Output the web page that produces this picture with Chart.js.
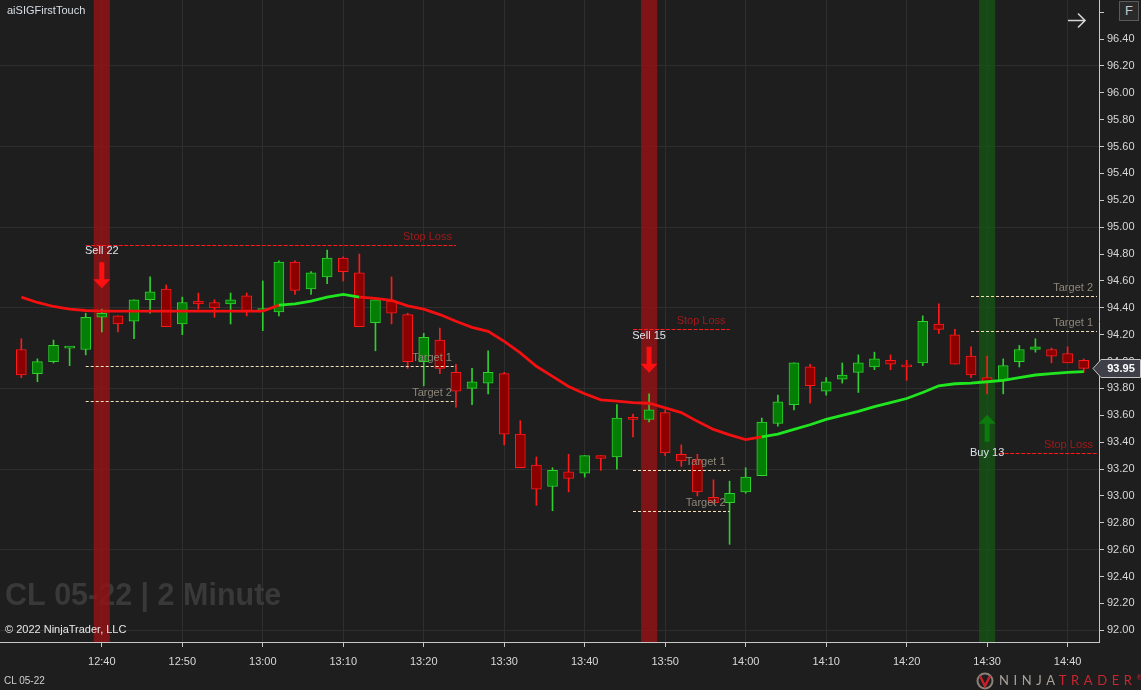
<!DOCTYPE html>
<html><head><meta charset="utf-8">
<script src="https://cdn.jsdelivr.net/npm/chart.js@4.4.1/dist/chart.umd.min.js"></script>
<style>
html,body{margin:0;padding:0;background:#1e1e1e;overflow:hidden;}
#wrap{position:relative;width:1141px;height:690px;background:#1e1e1e;}
canvas{position:absolute;left:0;top:0;}
.t{position:absolute;font-family:'Liberation Sans',Arial,sans-serif;white-space:nowrap;line-height:1;}
</style></head><body>
<div id="wrap">
<canvas id="c" width="1141" height="690"></canvas>
<div class="t" style="left:7px;top:5px;font-size:11px;color:#d9dfe6">aiSIGFirstTouch</div>
<div class="t" style="left:5px;top:624px;font-size:11px;color:#e8e8e8">© 2022 NinjaTrader, LLC</div>
<div class="t" style="left:4px;top:676px;font-size:10px;color:#cfcfcf">CL 05-22</div>
<div class="t" style="left:1119px;top:1px;width:18px;height:18px;border:1px solid #5a5a5a;background:#2a2a2a;color:#c8c8c8;font-size:13px;text-align:center;line-height:18px">F</div>
<svg style="position:absolute;left:1066px;top:12px" width="22" height="17"><path d="M2 8.5 H19 M12 1.5 L19 8.5 L12 15.5" stroke="#d4d4d4" stroke-width="1.6" fill="none"/></svg>
<div class="t" style="left:975px;top:672px;height:18px;">
<svg style="position:absolute;left:0;top:0" width="20" height="18"><circle cx="10" cy="9" r="7.5" fill="none" stroke="#8a8078" stroke-width="2"/><path d="M5 4 L10 14 L15 4" stroke="#c8202a" stroke-width="2.4" fill="none"/></svg>
<span style="position:absolute;left:24px;top:2px;font-family:Lato,'Liberation Sans',sans-serif;font-size:13px;letter-spacing:4.6px;font-weight:400"><span style="color:#a8a29c">NINJA</span><span style="color:#cc2430">TRADER</span><span style="color:#cc2430;font-size:7px;vertical-align:top;letter-spacing:0">®</span></span>
</div>
</div>
<script>
// ---- data ----
const timeLabels = ['12:30','12:32','12:34','12:36','12:38','12:40','12:42','12:44','12:46','12:48',
'12:50','12:52','12:54','12:56','12:58','13:00','13:02','13:04','13:06','13:08',
'13:10','13:12','13:14','13:16','13:18','13:20','13:22','13:24','13:26','13:28',
'13:30','13:32','13:34','13:36','13:38','13:40','13:42','13:44','13:46','13:48',
'13:50','13:52','13:54','13:56','13:58','14:00','14:02','14:04','14:06','14:08',
'14:10','14:12','14:14','14:16','14:18','14:20','14:22','14:24','14:26','14:28',
'14:30','14:32','14:34','14:36','14:38','14:40','14:42'];
const opens = [94.09,93.91,94.00,94.10,94.09,94.33,94.34,94.30,94.46,94.54,
94.28,94.45,94.44,94.43,94.49,94.38,94.37,94.74,94.54,94.63,
94.77,94.66,94.29,94.45,94.35,94.00,94.16,93.92,93.80,93.84,
93.91,93.46,93.23,93.07,93.18,93.17,93.30,93.29,93.58,93.57,
93.62,93.31,93.27,92.99,92.95,93.03,93.15,93.54,93.68,93.96,
93.78,93.87,93.92,93.96,94.01,93.97,93.99,94.28,94.20,94.04,
93.88,93.86,94.00,94.09,94.09,94.06,94.01];
const highs = [94.17,94.02,94.16,94.10,94.36,94.39,94.34,94.46,94.63,94.57,
94.48,94.51,94.46,94.51,94.51,94.60,94.75,94.75,94.67,94.83,
94.78,94.80,94.46,94.63,94.36,94.21,94.25,93.98,93.95,94.08,
93.92,93.56,93.29,93.21,93.31,93.30,93.30,93.68,93.61,93.76,
93.64,93.38,93.31,93.12,93.11,93.21,93.58,93.75,93.99,93.98,
93.88,93.99,94.05,94.07,94.05,94.01,94.34,94.43,94.24,94.11,
94.04,94.02,94.12,94.17,94.10,94.11,94.02];
const lows = [93.88,93.85,93.99,93.97,94.05,94.22,94.22,94.17,94.36,94.26,
94.20,94.39,94.33,94.28,94.34,94.23,94.34,94.50,94.50,94.58,
94.60,94.26,94.08,94.28,93.95,93.82,93.91,93.66,93.68,93.76,
93.38,93.21,92.93,92.89,93.03,93.14,93.19,93.20,93.44,93.55,
93.30,93.22,93.00,92.94,92.64,93.02,93.15,93.52,93.64,93.69,
93.75,93.84,93.77,93.94,93.94,93.86,93.97,94.21,93.98,93.88,
93.76,93.76,93.96,94.07,93.99,93.99,93.92];
const closes = [93.90,94.00,94.12,94.10,94.33,94.36,94.28,94.46,94.52,94.26,
94.44,94.43,94.40,94.46,94.37,94.39,94.74,94.53,94.66,94.77,
94.67,94.26,94.46,94.36,94.00,94.18,93.95,93.78,93.85,93.92,
93.46,93.21,93.05,93.19,93.13,93.30,93.28,93.58,93.57,93.64,
93.32,93.26,93.03,92.95,93.02,93.14,93.55,93.70,93.99,93.82,
93.85,93.90,93.99,94.02,93.98,93.96,94.30,94.24,93.98,93.90,
93.85,93.97,94.09,94.11,94.04,93.99,93.95];
const maValues = [94.48,94.44,94.41,94.39,94.38,94.375,94.375,94.375,94.375,94.375,
94.375,94.375,94.375,94.375,94.375,94.375,94.42,94.43,94.45,94.48,
94.50,94.48,94.47,94.455,94.415,94.39,94.35,94.30,94.255,94.225,
94.15,94.065,93.965,93.89,93.815,93.76,93.715,93.705,93.695,93.69,
93.655,93.62,93.555,93.495,93.455,93.42,93.44,93.46,93.495,93.53,
93.57,93.60,93.63,93.665,93.695,93.725,93.77,93.82,93.835,93.84,
93.85,93.86,93.88,93.90,93.91,93.92,93.925];
const xTickLabels = ['12:40','12:50','13:00','13:10','13:20','13:30','13:40','13:50','14:00','14:10','14:20','14:30','14:40'];
const yTickLabels = ['92.00','92.20','92.40','92.60','92.80','93.00','93.20','93.40','93.60','93.80','94.00','94.20','94.40','94.60','94.80','95.00','95.20','95.40','95.60','95.80','96.00','96.20','96.40','96.60'];
const signalTimes = ['12:40','13:48','14:30'];
const signalNames = ['Sell 22','Sell 15','Buy 13'];
const signalSides = ['sell','sell','buy'];
const stopPrices = [94.87, 94.24, 93.32];
const target1Prices = [93.97, 93.19, 94.23];
const target2Prices = [93.71, 92.89, 94.49];
const levelStarts = ['12:38','13:46','14:28'];
const levelEnds = ['13:24','13:58','14:44'];

// ---- helpers ----
const FONT = "'Liberation Sans', Arial, sans-serif";
const toMin = s => { const p = s.split(':').map(Number); return (p[0] - 12) * 60 + p[1]; };
const isUp = i => closes[i] >= opens[i];
const isMajor = v => { const k = (v - 92) / 0.6; return Math.abs(k - Math.round(k)) < 1e-6; };

const overlay = {
  id: 'overlay',
  beforeDatasetsDraw(chart) {
    const {ctx, chartArea: a, scales: {x}} = chart;
    ctx.save();
    ctx.beginPath(); ctx.rect(a.left, a.top, a.right - a.left, a.bottom - a.top); ctx.clip();
    ctx.font = 'bold 30.5px ' + FONT;
    ctx.fillStyle = '#393939'; ctx.textBaseline = 'middle'; ctx.textAlign = 'left';
    ctx.fillText('CL 05-22 | 2 Minute', 5, 597);
    signalTimes.forEach((t, i) => {
      const m = toMin(t);
      const x0 = x.getPixelForValue(m - 1), x1 = x.getPixelForValue(m + 1);
      ctx.fillStyle = signalSides[i] === 'sell' ? 'rgba(150,18,20,0.8)' : 'rgba(22,86,22,0.78)';
      ctx.fillRect(x0, a.top, x1 - x0, a.bottom - a.top);
    });
    ctx.restore();
  },
  afterDatasetsDraw(chart) {
    const {ctx, chartArea: a, scales: {x, y}} = chart;
    ctx.save();
    ctx.beginPath(); ctx.rect(a.left, a.top, a.right - a.left, a.bottom - a.top); ctx.clip();
    ctx.font = '11px ' + FONT;
    const level = (x0, x1, price, color, dash, label, labelColor) => {
      const py = Math.round(y.getPixelForValue(price)) + 0.5;
      ctx.strokeStyle = color; ctx.lineWidth = 1; ctx.setLineDash(dash);
      ctx.beginPath(); ctx.moveTo(x0, py); ctx.lineTo(x1, py); ctx.stroke();
      ctx.setLineDash([]);
      ctx.fillStyle = labelColor; ctx.textAlign = 'right'; ctx.textBaseline = 'middle';
      ctx.fillText(label, x1 - 4, py - 9);
    };
    signalTimes.forEach((t, i) => {
      const idx = timeLabels.indexOf(t);
      const cx = x.getPixelForValue(toMin(t));
      const xs = x.getPixelForValue(toMin(levelStarts[i]));
      const xe = Math.min(x.getPixelForValue(toMin(levelEnds[i])), a.right - 2);
      const sell = signalSides[i] === 'sell';
      level(xs, xe, target1Prices[i], '#f4e0b8', [3, 2], 'Target 1', '#8e877a');
      level(xs, xe, target2Prices[i], '#f4e0b8', [3, 2], 'Target 2', '#8e877a');
      level(sell ? xs : cx + 12, xe, stopPrices[i], '#ff1a1a', [4, 1.5], 'Stop Loss', '#a01a1a');
      ctx.textAlign = 'center'; ctx.textBaseline = 'middle';
      const sw = 5, hw = 17, hh = 9;
      if (sell) {
        const tip = y.getPixelForValue(highs[idx]) - 21, top = tip - 26;
        ctx.fillStyle = '#ff1010';
        ctx.beginPath();
        ctx.moveTo(cx - sw / 2, top); ctx.lineTo(cx + sw / 2, top); ctx.lineTo(cx + sw / 2, tip - hh);
        ctx.lineTo(cx + hw / 2, tip - hh); ctx.lineTo(cx, tip); ctx.lineTo(cx - hw / 2, tip - hh);
        ctx.lineTo(cx - sw / 2, tip - hh); ctx.closePath(); ctx.fill();
        ctx.fillStyle = '#dfe5ec';
        ctx.fillText(signalNames[i], cx, top - 11);
      } else {
        const tip = y.getPixelForValue(lows[idx]) + 21, bot = tip + 27;
        ctx.fillStyle = '#0d7a0d';
        ctx.beginPath();
        ctx.moveTo(cx - sw / 2, bot); ctx.lineTo(cx + sw / 2, bot); ctx.lineTo(cx + sw / 2, tip + hh);
        ctx.lineTo(cx + hw / 2, tip + hh); ctx.lineTo(cx, tip); ctx.lineTo(cx - hw / 2, tip + hh);
        ctx.lineTo(cx - sw / 2, tip + hh); ctx.closePath(); ctx.fill();
        ctx.fillStyle = '#dfe5ec';
        ctx.fillText(signalNames[i], cx, bot + 11);
      }
    });
    ctx.restore();
  },
  afterDraw(chart) {
    const {ctx, chartArea: a, scales: {y}} = chart;
    const last = closes[closes.length - 1];
    const py = Math.round(y.getPixelForValue(last)) + 0.5;
    const x0 = a.right - 6;
    ctx.save();
    ctx.beginPath();
    ctx.moveTo(x0, py); ctx.lineTo(x0 + 8, py - 9); ctx.lineTo(1140.5, py - 9);
    ctx.lineTo(1140.5, py + 9); ctx.lineTo(x0 + 8, py + 9); ctx.closePath();
    ctx.fillStyle = '#3f3f49'; ctx.fill();
    ctx.strokeStyle = '#c4c4c4'; ctx.lineWidth = 1; ctx.stroke();
    ctx.fillStyle = '#ffffff'; ctx.font = 'bold 11px ' + FONT;
    ctx.textAlign = 'center'; ctx.textBaseline = 'middle';
    ctx.fillText(last.toFixed(2), x0 + 28, py + 0.5);
    ctx.restore();
  }
};

const pts = arr => timeLabels.map((t, i) => ({x: toMin(t), y: arr[i]}));
const rng = (a1, a2) => timeLabels.map((t, i) => ({x: toMin(t), y: [a1[i], a2[i]]}));

new Chart(document.getElementById('c'), {
  type: 'bar',
  data: {
    datasets: [
      {
        type: 'line', label: 'EMA', data: pts(maValues), order: 0,
        borderWidth: 2.8, pointRadius: 0, borderColor: '#f21010',
        segment: { borderColor: c => { const i = c.p0DataIndex; return (i > 0 && maValues[i] > maValues[i - 1]) ? '#20e620' : '#f21010'; } }
      },
      {
        label: 'body', data: rng(opens, closes), order: 1, grouped: false,
        barThickness: 10, minBarLength: 2, borderWidth: 1, borderSkipped: false,
        backgroundColor: c => isUp(c.dataIndex) ? '#047e04' : '#8c0000',
        borderColor: c => isUp(c.dataIndex) ? '#2fcf2f' : '#ff1a1a'
      },
      {
        label: 'wick', data: rng(lows, highs), order: 2, grouped: false,
        barThickness: 1, borderWidth: 0,
        backgroundColor: c => isUp(c.dataIndex) ? '#2fcf2f' : '#ff1a1a'
      }
    ]
  },
  options: {
    responsive: false, animation: false, devicePixelRatio: 1,
    layout: { padding: 0 },
    plugins: { legend: { display: false }, tooltip: { enabled: false } },
    scales: {
      x: {
        type: 'linear', min: 27.35, max: 163.9, offset: false,
        afterBuildTicks: s => { s.ticks = xTickLabels.map(l => ({value: toMin(l)})); },
        afterFit: s => { s.height = 48; s.paddingLeft = 0; s.paddingRight = 0; },
        ticks: { autoSkip: false, maxRotation: 0, color: '#d8d8d8', font: {family: FONT, size: 11}, padding: 8,
                 callback: (v, i) => xTickLabels[i] },
        grid: { color: '#2e2e2e', lineWidth: 1, offset: false, drawTicks: true, tickLength: 5, tickColor: '#c8c8c8' },
        border: { color: '#c8c8c8', width: 1 }
      },
      y: {
        type: 'linear', position: 'right', min: 91.913, max: 96.691,
        afterBuildTicks: s => { s.ticks = yTickLabels.map(l => ({value: parseFloat(l)})); },
        afterFit: s => { s.width = 42; s.paddingTop = 0; s.paddingBottom = 0; },
        ticks: { autoSkip: false, color: '#d8d8d8', font: {family: FONT, size: 11}, padding: 3, crossAlign: 'near',
                 callback: (v, i) => (v > 96.5 ? '' : yTickLabels[i]) },
        grid: { color: c => (c.tick && isMajor(c.tick.value)) ? '#2e2e2e' : 'rgba(0,0,0,0)', lineWidth: 1,
                drawTicks: true, tickLength: 5, tickColor: '#c8c8c8' },
        border: { color: '#c8c8c8', width: 1 }
      }
    }
  },
  plugins: [overlay]
});
</script>
</body></html>
